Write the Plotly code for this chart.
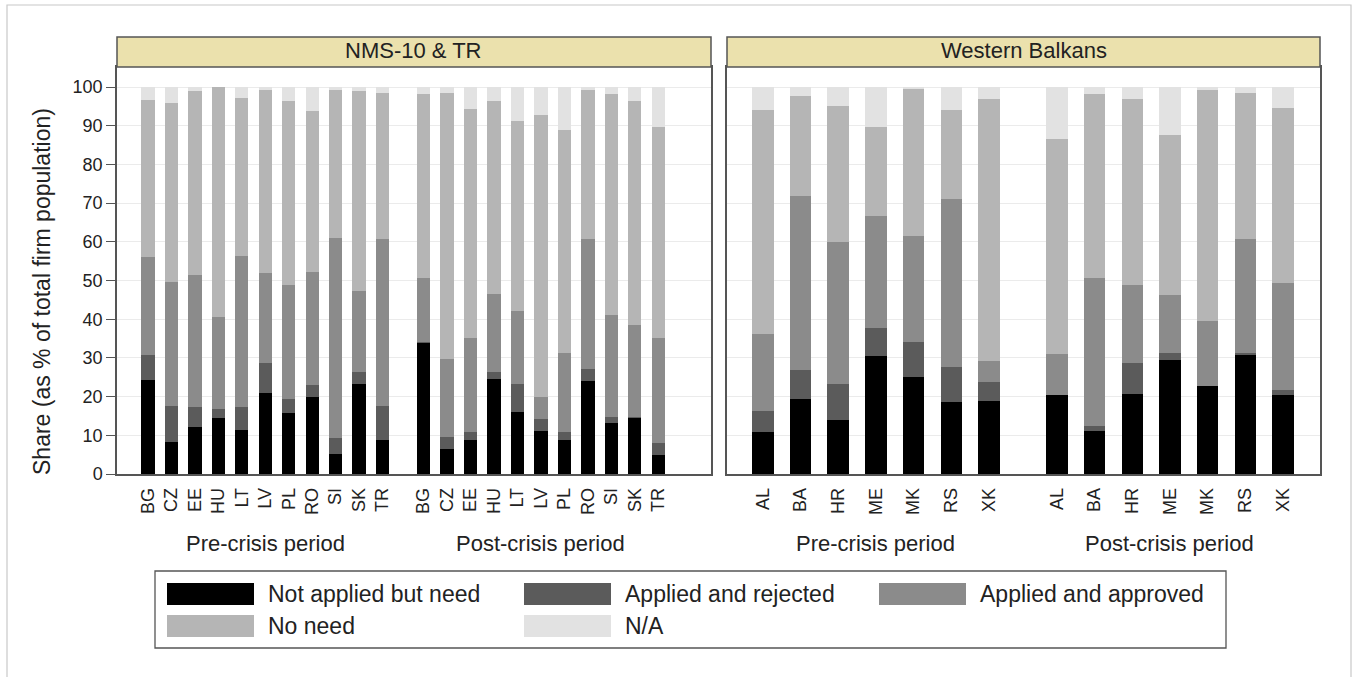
import plotly.graph_objects as go

# ---------------- data ----------------
regions = ["NMS-10 & TR", "Western Balkans"]
periods = ["Pre-crisis period", "Post-crisis period"]
nms_countries = ["BG", "CZ", "EE", "HU", "LT", "LV", "PL", "RO", "SI", "SK", "TR"]
wb_countries = ["AL", "BA", "HR", "ME", "MK", "RS", "XK"]
series_names = ["Not applied but need", "Applied and rejected", "Applied and approved", "No need", "N/A"]
series_colors = ["#000000", "#5b5b5b", "#8b8b8b", "#b5b5b5", "#e2e2e2"]
y_ticks = [0, 10, 20, 30, 40, 50, 60, 70, 80, 90, 100]
y_title = "Share (as % of total firm population)"

# NMS-10 & TR, pre-crisis
nms_pre_not_applied = [24.4, 8.3, 12.1, 14.5, 11.5, 20.9, 15.8, 19.8, 5.3, 23.3, 8.9]
nms_pre_rejected = [6.3, 9.4, 5.2, 2.4, 5.8, 7.8, 3.6, 3.3, 4.0, 3.1, 8.8]
nms_pre_approved = [25.5, 31.9, 34.2, 23.8, 39.1, 23.2, 29.5, 29.1, 51.6, 21.0, 43.0]
nms_pre_no_need = [40.5, 46.3, 47.4, 59.3, 40.8, 47.6, 47.4, 41.5, 38.6, 51.7, 37.7]
nms_pre_na = [3.3, 4.1, 1.1, 0.0, 2.8, 0.5, 3.7, 6.3, 0.5, 0.9, 1.6]

# NMS-10 & TR, post-crisis
nms_post_not_applied = [33.9, 6.5, 8.9, 24.6, 16.0, 11.0, 8.9, 24.1, 13.2, 14.6, 4.9]
nms_post_rejected = [0.3, 3.1, 1.9, 1.7, 7.3, 3.2, 1.9, 3.0, 1.5, 0.2, 3.1]
nms_post_approved = [16.4, 20.1, 24.3, 20.2, 18.9, 5.6, 20.5, 33.7, 26.5, 23.8, 27.1]
nms_post_no_need = [47.7, 68.7, 59.2, 49.8, 49.1, 72.9, 57.5, 38.7, 57.1, 57.7, 54.7]
nms_post_na = [1.7, 1.6, 5.7, 3.7, 8.7, 7.3, 11.2, 0.5, 1.7, 3.7, 10.2]

# Western Balkans, pre-crisis
wb_pre_not_applied = [10.8, 19.5, 14.0, 30.4, 25.0, 18.6, 18.9]
wb_pre_rejected = [5.4, 7.3, 9.3, 7.3, 9.1, 9.0, 4.8]
wb_pre_approved = [20.0, 45.1, 36.6, 29.1, 27.3, 43.5, 5.4]
wb_pre_no_need = [57.8, 25.9, 35.3, 22.9, 38.3, 23.0, 67.9]
wb_pre_na = [6.0, 2.2, 4.8, 10.3, 0.3, 5.9, 3.0]

# Western Balkans, post-crisis
wb_post_not_applied = [20.5, 11.2, 20.8, 29.4, 22.7, 31.0, 20.3]
wb_post_rejected = [0.0, 1.3, 7.9, 1.9, 0.0, 0.2, 1.3]
wb_post_approved = [10.6, 38.1, 20.2, 15.0, 16.9, 29.6, 27.8]
wb_post_no_need = [55.5, 47.7, 48.0, 41.2, 59.9, 37.8, 45.2]
wb_post_na = [13.4, 1.7, 3.1, 12.5, 0.5, 1.4, 5.4]

# ---------------- layout helpers ----------------
W, H = 1354, 677


def px(x):
    return x / W


def py(y):
    return 1 - y / H


FONT = "Liberation Sans, Arial, sans-serif"
TXT = "#222222"
FRAME = "#555555"

panels = [
    dict(countries=nms_countries, gap=0.75, rng=[-1.32, 24.0],
         dom=[px(117), px(711)],
         data=[[nms_pre_not_applied, nms_pre_rejected, nms_pre_approved, nms_pre_no_need, nms_pre_na],
               [nms_post_not_applied, nms_post_rejected, nms_post_approved, nms_post_no_need, nms_post_na]]),
    dict(countries=wb_countries, gap=0.8, rng=[-0.95, 14.78],
         dom=[px(727), px(1320)],
         data=[[wb_pre_not_applied, wb_pre_rejected, wb_pre_approved, wb_pre_no_need, wb_pre_na],
               [wb_post_not_applied, wb_post_rejected, wb_post_approved, wb_post_no_need, wb_post_na]]),
]

fig = go.Figure()
annotations = []
shapes = []
ydom = [py(474), py(67)]

for k, pan in enumerate(panels):
    xa = "x" if k == 0 else "x2"
    ya = "y" if k == 0 else "y2"
    n = len(pan["countries"])
    tickvals, ticktext = [], []
    for p, per in enumerate(periods):
        pos = [i + p * (n + pan["gap"]) for i in range(n)]
        tickvals += pos
        ticktext += pan["countries"]
        for s, name in enumerate(series_names):
            fig.add_trace(go.Bar(
                x=pos, y=pan["data"][p][s], name=name, xaxis=xa, yaxis=ya,
                marker=dict(color=series_colors[s], line=dict(width=0)),
                width=0.57, showlegend=False,
                hovertemplate="%{y}<extra>" + name + "</extra>"))
        annotations.append(dict(
            x=(pos[0] + pos[-1]) / 2, y=py(543), xref=xa, yref="paper",
            text=per, showarrow=False, font=dict(family=FONT, size=22, color=TXT),
            xanchor="center", yanchor="middle"))
    axis_x = dict(domain=pan["dom"], range=pan["rng"], tickvals=tickvals, ticktext=ticktext,
                  tickangle=-90, ticks="", showgrid=False, zeroline=False,
                  showline=True, linecolor=FRAME, linewidth=1.5, mirror=True,
                  tickfont=dict(family=FONT, size=18, color=TXT), ticklabelstandoff=5,
                  anchor=ya, automargin=False, fixedrange=True)
    axis_y = dict(domain=ydom, range=[0, 105.2], tickvals=y_ticks,
                  showgrid=True, gridcolor="#ebebeb", gridwidth=1, zeroline=False,
                  showline=True, linecolor=FRAME, linewidth=1.5, mirror=True,
                  anchor=xa, automargin=False, fixedrange=True)
    if k == 0:
        axis_y.update(ticks="outside", ticklen=9, tickcolor=FRAME, tickwidth=1.2,
                      tickfont=dict(family=FONT, size=18, color=TXT))
        fig.update_layout(xaxis=axis_x, yaxis=axis_y)
    else:
        axis_y.update(ticks="", showticklabels=False, matches="y")
        fig.update_layout(xaxis2=axis_x, yaxis2=axis_y)
    # strip header
    shapes.append(dict(type="rect", xref="paper", yref="paper",
                       x0=pan["dom"][0], x1=pan["dom"][1], y0=py(67), y1=py(37),
                       fillcolor="#ebe1ad", line=dict(color=FRAME, width=1.5), layer="above"))
    annotations.append(dict(x=(pan["dom"][0] + pan["dom"][1]) / 2, y=py(51), xref="paper", yref="paper",
                            text=regions[k], showarrow=False,
                            font=dict(family=FONT, size=22, color=TXT),
                            xanchor="center", yanchor="middle"))

# y title
annotations.append(dict(x=px(42), y=py(292), xref="paper", yref="paper", text=y_title,
                        textangle=-90, showarrow=False,
                        font=dict(family=FONT, size=23, color=TXT),
                        xanchor="center", yanchor="middle"))

# outer border
shapes.append(dict(type="rect", xref="paper", yref="paper", x0=px(7), x1=px(1351),
                   y0=-0.02, y1=py(5), line=dict(color="#c8c8c8", width=1.2),
                   fillcolor="rgba(0,0,0,0)", layer="below"))

# legend box
shapes.append(dict(type="rect", xref="paper", yref="paper", x0=px(155), x1=px(1226),
                   y0=py(648), y1=py(571), line=dict(color=FRAME, width=1.3),
                   fillcolor="white"))
col_x = [167, 524, 879]
row_y = [594, 626]
for s, name in enumerate(series_names):
    r, c = divmod(s, 3)
    x0 = col_x[c]
    yc = row_y[r]
    shapes.append(dict(type="rect", xref="paper", yref="paper",
                       x0=px(x0), x1=px(x0 + 87), y0=py(yc + 11), y1=py(yc - 11),
                       fillcolor=series_colors[s], line=dict(width=0)))
    annotations.append(dict(x=px(x0 + 99), y=py(yc), xref="paper", yref="paper",
                            text=name, showarrow=False,
                            font=dict(family=FONT, size=23, color=TXT),
                            xanchor="left", yanchor="middle"))

fig.update_layout(
    width=W, height=H, margin=dict(l=0, r=0, t=0, b=0),
    paper_bgcolor="white", plot_bgcolor="white",
    barmode="stack", bargap=0, showlegend=False,
    shapes=shapes, annotations=annotations,
    font=dict(family=FONT, color=TXT),
)

fig.write_html("out.html", config={"displayModeBar": False},
               post_script="document.body.style.margin='0';document.body.style.overflow='hidden';")
